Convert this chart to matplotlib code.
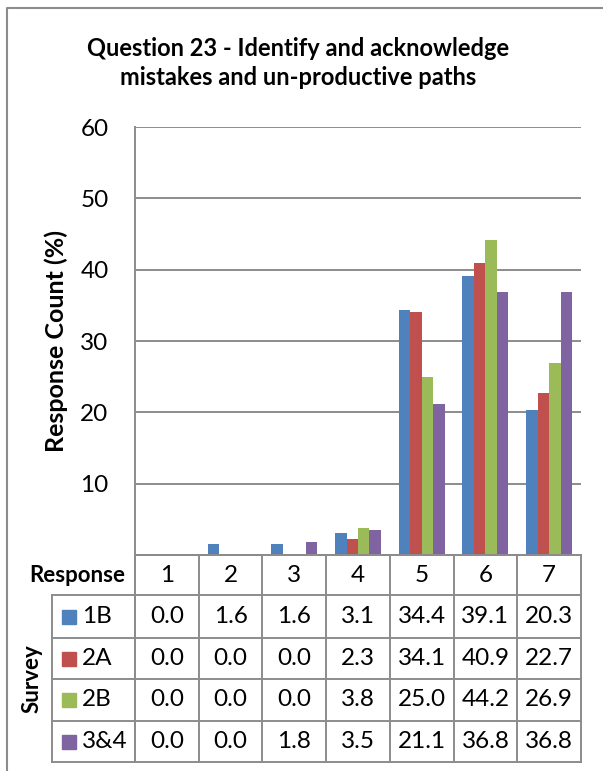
import matplotlib
matplotlib.use("Agg")
import matplotlib.pyplot as plt
import matplotlib.transforms as mtransforms
import numpy as np

plt.rcParams['font.family'] = ['Lato', 'DejaVu Sans']

# survey results, response count in percent
responses = ['1', '2', '3', '4', '5', '6', '7']
surveys = ['1B', '2A', '2B', '3&4']
s1b = [0.0, 1.6, 1.6, 3.1, 34.4, 39.1, 20.3]
s2a = [0.0, 0.0, 0.0, 2.3, 34.1, 40.9, 22.7]
s2b = [0.0, 0.0, 0.0, 3.8, 25.0, 44.2, 26.9]
s34 = [0.0, 0.0, 1.8, 3.5, 21.1, 36.8, 36.8]
yticks = [10, 20, 30, 40, 50, 60]

series = [s1b, s2a, s2b, s34]
colors = ['#4F81BD', '#C0504D', '#9BBB59', '#8064A2']
grid_c = '#8C8C8C'
fs = 17.5

W, H = 603, 771
fig = plt.figure(figsize=(W / 100, H / 100), dpi=100)

# plot area in pixels
x0, x1, ytop, ybot = 135, 581, 127, 555
ax = fig.add_axes([x0 / W, 1 - ybot / H, (x1 - x0) / W, (ybot - ytop) / H])

x = np.arange(len(responses))
bw = 0.18
for k, (vals, c) in enumerate(zip(series, colors)):
    ax.bar(x + (k - 1.5) * bw, vals, bw, color=c, zorder=3)

ax.set_xlim(-0.5, len(responses) - 0.5)
ax.set_ylim(0, 60)
ax.set_yticks(yticks)
ax.set_yticklabels([str(t) for t in yticks], fontsize=fs)
ax.tick_params(axis='y', length=0, pad=19)
ax.set_xticks([])
ax.grid(axis='y', color=grid_c, linewidth=1.4, zorder=0)
for s in ['top', 'right']:
    ax.spines[s].set_visible(False)
for s in ['left', 'bottom']:
    ax.spines[s].set_color(grid_c)
    ax.spines[s].set_linewidth(1.4)
ax.set_ylabel('Response Count (%)', fontsize=18, fontweight='bold')
ax.yaxis.set_label_coords((68 - x0) / (x1 - x0), 0.5)

# overlay in pixel coordinates for the title, frame and data table
ov = fig.add_axes([0, 0, 1, 1], zorder=5)
ov.set_xlim(0, W)
ov.set_ylim(H, 0)
ov.axis('off')
ov.patch.set_alpha(0)

ov.plot([7, 7, W], [H, 8, 8], color='#8C8C8C', lw=1.5)
ov.text(298, 63, 'Question 23 - Identify and acknowledge\nmistakes and un-productive paths',
        ha='center', va='center', fontsize=17, fontweight='bold', linespacing=1.35)

# table grid
row_y = [555, 595, 638, 679, 721, 762]
lw = 1.4
ov.plot([x0, x1], [row_y[0], row_y[0]], color=grid_c, lw=lw)
for yy in row_y[1:]:
    ov.plot([52, x1], [yy, yy], color=grid_c, lw=lw)
ov.plot([52, 52], [row_y[1], row_y[-1]], color=grid_c, lw=lw)
ov.plot([x0, x0], [row_y[0], row_y[-1]], color=grid_c, lw=lw)

# column positions follow the category axis
tr = mtransforms.blended_transform_factory(ax.transData, ov.transData)
for b in np.arange(len(responses) + 1) - 0.5:
    ov.plot([b, b], [row_y[0], row_y[-1]], color=grid_c, lw=lw, transform=tr, clip_on=False)

for i, r in enumerate(responses):
    ov.text(i, (row_y[0] + row_y[1]) / 2, r, transform=tr, ha='center', va='center', fontsize=fs)
ov.text(125, (row_y[0] + row_y[1]) / 2, 'Response', ha='right', va='center',
        fontsize=16, fontweight='bold')

for k, (name, vals, c) in enumerate(zip(surveys, series, colors)):
    yc = (row_y[k + 1] + row_y[k + 2]) / 2
    ov.add_patch(plt.Rectangle((62, yc - 7), 14, 14, color=c))
    ov.text(82, yc, name, ha='left', va='center', fontsize=fs)
    for i, v in enumerate(vals):
        ov.text(i, yc, f'{v:.1f}', transform=tr, ha='center', va='center', fontsize=fs)

ov.text(32, (row_y[1] + row_y[-1]) / 2, 'Survey', rotation=90, ha='center', va='center',
        fontsize=16, fontweight='bold')

fig.savefig('out.png', dpi=100)
